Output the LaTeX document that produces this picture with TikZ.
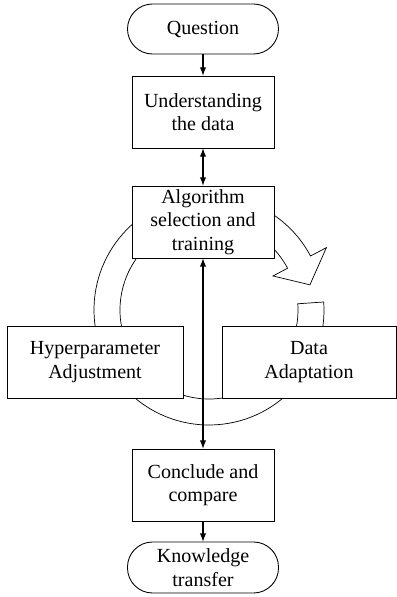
\documentclass[tikz,border=0pt]{standalone}
\usepackage{fontspec}
\setmainfont{Liberation Serif}
\usetikzlibrary{arrows,positioning}
\tikzset{box/.style={rectangle,draw=black,fill=white,line width=0.5pt,align=center,
  minimum width=2.84cm,minimum height=1.44cm,inner sep=0pt}}
\tikzset{term/.style={rectangle,rounded corners=0.5cm,draw=black,fill=white,line width=0.5pt,
  align=center,minimum width=3.02cm,minimum height=1.0cm,inner sep=0pt}}
\tikzset{flow/.style={line width=0.6pt}}

\begin{document}
\begin{tikzpicture}[font=\fontsize{11.4}{13.4}\selectfont]
\useasboundingbox (0,0) rectangle (7.94,11.94);
% \draw[help lines] (0,0) grid (8,12);
%
% the loop arrow behind the boxes
\begin{scope}[shift={(4.18,5.74)}]
\draw[line width=0.4pt] (4:1.78) -- (4:2.30) arc[start angle=4,end angle=-332,radius=2.30]
  -- (28:2.66) -- (14:2.08) -- (28:1.45) -- (28:1.78)
  arc[start angle=28,end angle=364,radius=1.78] -- cycle;
\end{scope}
%
\node (q) [term] at (4.06,11.36) {Question};
\node (u) [box] at (4.06,9.70) {Understanding\\the data};
\node (a) [box] at (4.06,7.50) {Algorithm\\selection and\\training};
\node (h) [box,minimum width=3.52cm] at (1.90,4.70) {Hyperparameter\\Adjustment};
\node (d) [box,minimum width=3.48cm] at (6.18,4.70) {Data\\Adaptation};
\node (c) [box] at (4.06,2.24) {Conclude and\\compare};
\node (k) [term,minimum height=1.02cm] at (4.06,0.59) {Knowledge\\transfer};
%
\path[->,>=latex,flow] (q) edge (u);
\path[<->,>=latex,flow] (u) edge (a);
\path[<->,>=latex,flow] (a) edge (c);
\path[->,>=latex,flow] (c) edge (k);
\end{tikzpicture}
\end{document}
